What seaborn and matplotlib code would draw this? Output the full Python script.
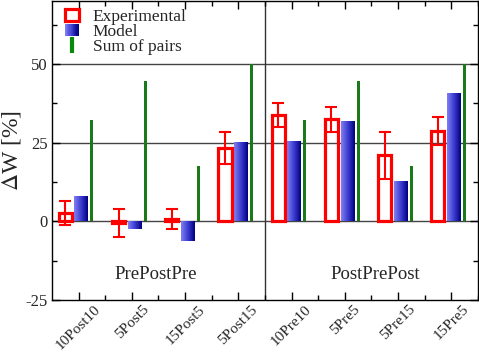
import numpy as np
import seaborn as sns
import matplotlib.pyplot as plt
from matplotlib.patches import Rectangle
from matplotlib.lines import Line2D
from matplotlib.legend_handler import HandlerBase
from matplotlib.colors import LinearSegmentedColormap

categories = ['10Post10', '5Post5', '15Post5', '5Post15', '10Pre10', '5Pre5', '5Pre15', '15Pre5']
exp_vals = [2.6, -0.5, 0.7, 23.3, 33.8, 32.4, 21.0, 28.6]
exp_err = [3.8, 4.5, 3.1, 5.0, 3.8, 4.0, 7.5, 4.5]
model_vals = [8.0, -2.3, -6.4, 25.3, 25.6, 31.8, 12.9, 40.6]
sum_vals = [32.2, 44.6, 17.5, 50.0, 32.2, 44.6, 17.5, 50.0]
group_names = ['PrePostPre', 'PostPrePost']

sns.set_style('ticks')
plt.rcParams['font.family'] = ['Liberation Serif', 'DejaVu Serif']
plt.rcParams['axes.unicode_minus'] = False
plt.rcParams['mathtext.fontset'] = 'stix'

blues = LinearSegmentedColormap.from_list('blues', ['#8080f4', '#3c3cd0', '#000080'])

fig = plt.figure(figsize=(4.79, 3.54), dpi=100)
ax = fig.add_axes([0.1086, 0.1525, 0.889, 0.845])

pos = np.arange(1, len(categories) + 1)

# lignes de référence
for yv in [0, 25, 50]:
    ax.axhline(yv, color='#444444', lw=1.0, zorder=0.5)
ax.axvline(4.5, color='#333333', lw=1.0, zorder=0.5)

# barres
sns.barplot(x=pos + 0.05, y=model_vals, native_scale=True, width=0.26,
            color='#3c3cd0', linewidth=0, ax=ax, zorder=2)
model_bars = list(ax.patches)
sns.barplot(x=pos + 0.25, y=sum_vals, native_scale=True, width=0.055,
            color='#0a8a0a', linewidth=0, ax=ax, zorder=2)
sns.barplot(x=pos - 0.25, y=exp_vals, native_scale=True, width=0.245,
            color='red', fill=False, linewidth=2.3, ax=ax, zorder=3)
ax.errorbar(pos - 0.25, exp_vals, yerr=exp_err, fmt='none', ecolor='red',
            elinewidth=1.5, capsize=4.5, capthick=1.5, zorder=4)

# dégradé pour le modèle
grad = np.linspace(0, 1, 64).reshape(1, -1)
for p in model_bars:
    x0, y0 = p.get_x(), p.get_y()
    w, h = p.get_width(), p.get_height()
    im = ax.imshow(grad, cmap=blues, aspect='auto', zorder=2.1,
                   extent=[x0, x0 + w, min(y0, y0 + h), max(y0, y0 + h)])
    im.set_clip_path(p)

ax.set_xlim(0.5, 8.5)
ax.set_ylim(-25, 70)
ax.set_xticks(pos)
ax.set_xticklabels(categories, rotation=45, fontsize=11)
ax.set_xticks(pos + 0.5, minor=True)
ax.set_yticks([-25, 0, 25, 50])
ax.set_yticklabels(['-25', '0', '25', '50'], fontsize=12)
ax.set_yticks([-12.5, 12.5, 37.5, 62.5], minor=True)
ax.tick_params(which='both', direction='in', top=True, right=True, color='black')
ax.tick_params(which='major', length=6, width=1, pad=3)
ax.tick_params(axis='x', which='major', pad=2)
ax.tick_params(which='minor', length=3.5, width=1)
for s in ax.spines.values():
    s.set_color('black')
    s.set_linewidth(1.0)

ax.set_xlabel('')
ax.set_ylabel(r'$\Delta$W [%]', fontsize=17, labelpad=2)

ax.text(2.45, -17, group_names[0], fontsize=13.5, ha='center', va='center')
ax.text(6.57, -17, group_names[1], fontsize=13.5, ha='center', va='center')


class GradientHandler(HandlerBase):
    def create_artists(self, legend, orig_handle, xdescent, ydescent,
                       width, height, fontsize, trans):
        n = 12
        arts = []
        for i in range(n):
            r = Rectangle((-xdescent + width * i / n, -ydescent), width / n + 0.3, height,
                          facecolor=blues(i / (n - 1)), edgecolor='none', transform=trans)
            arts.append(r)
        return arts


h_exp = Rectangle((0, 0), 1, 1, facecolor='none', edgecolor='red', linewidth=2.3)
h_mod = Rectangle((0, 0), 1, 1)
h_sum = Line2D([], [], marker='|', ms=12, mew=3, color='#0a8a0a', ls='none')
ax.legend([h_exp, h_mod, h_sum], ['Experimental', 'Model', 'Sum of pairs'],
          handler_map={h_mod: GradientHandler()}, loc='upper left',
          bbox_to_anchor=(0.03, 0.972), frameon=False, fontsize=12.5,
          handlelength=0.8, handleheight=0.7, handletextpad=0.8,
          labelspacing=-0.08, borderpad=0, borderaxespad=0, numpoints=1)

fig.savefig('out.png', dpi=100)
